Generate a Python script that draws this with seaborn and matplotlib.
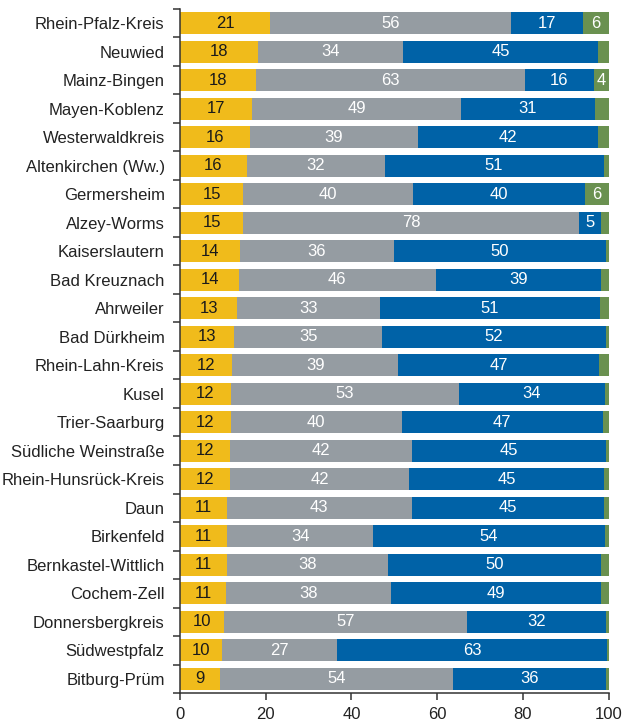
import numpy as np
import pandas as pd
import seaborn as sns
import matplotlib.pyplot as plt
from matplotlib.ticker import FixedLocator

districts = [
    "Rhein-Pfalz-Kreis", "Neuwied", "Mainz-Bingen", "Mayen-Koblenz",
    "Westerwaldkreis", "Altenkirchen (Ww.)", "Germersheim", "Alzey-Worms",
    "Kaiserslautern", "Bad Kreuznach", "Ahrweiler", "Bad Dürkheim",
    "Rhein-Lahn-Kreis", "Kusel", "Trier-Saarburg", "Südliche Weinstraße",
    "Rhein-Hunsrück-Kreis", "Daun", "Birkenfeld", "Bernkastel-Wittlich",
    "Cochem-Zell", "Donnersbergkreis", "Südwestpfalz", "Bitburg-Prüm",
]
yellow = [21.0, 18.2, 17.8, 16.8, 16.4, 15.6, 14.8, 14.8, 14.0, 13.8, 13.4, 12.6,
          12.2, 11.9, 11.9, 11.7, 11.7, 11.0, 11.0, 10.9, 10.8, 10.3, 9.9, 9.4]
gray = [56.1, 33.9, 62.6, 48.8, 39.0, 32.1, 39.6, 78.3, 35.8, 45.8, 33.2, 34.6,
        38.7, 53.1, 39.8, 42.3, 41.8, 43.0, 34.1, 37.6, 38.3, 56.7, 26.8, 54.2]
blue = [16.8, 45.3, 16.1, 31.1, 42.0, 51.1, 40.0, 5.0, 49.6, 38.7, 51.4, 52.1,
        46.8, 34.1, 46.9, 45.3, 45.3, 44.8, 54.0, 49.7, 49.0, 32.3, 62.8, 35.7]
green = [6.1, 2.6, 3.5, 3.3, 2.6, 1.2, 5.6, 1.9, 0.6, 1.7, 2.0, 0.7,
         2.3, 0.9, 1.4, 0.7, 1.2, 1.2, 0.9, 1.8, 1.9, 0.7, 0.5, 0.7]

colors = ["#F0BB1B", "#959CA2", "#0062A7", "#6A9150"]
text_colors = ["#1a1a1a", "white", "white", "white"]

df = pd.DataFrame({"district": districts, "yellow": yellow, "gray": gray,
                   "blue": blue, "green": green})
parts = ["yellow", "gray", "blue", "green"]
cum = df[parts].cumsum(axis=1)

sns.set_theme(style="ticks")
plt.rcParams["font.family"] = ["Liberation Sans", "DejaVu Sans"]

fig = plt.figure(figsize=(6.24, 7.24), dpi=100)
ax = fig.add_axes([0.2885, 0.0428, 0.687, 0.9448])

# draw stacked bars back to front using cumulative totals
for k in range(3, -1, -1):
    sns.barplot(x=cum[parts[k]], y=df["district"], orient="h", color=colors[k],
                width=0.76, saturation=1, ax=ax, linewidth=0)

# value labels
for i in range(len(df)):
    left = 0
    for k, p in enumerate(parts):
        v = df.loc[i, p]
        if v >= 3.4:
            ax.text(left + v / 2, i, f"{v:.0f}", ha="center", va="center",
                    color=text_colors[k], fontsize=12)
        left += v

ax.set_xlim(0, 100)
ax.set_ylim(23.5, -0.5)
ax.set_xticks([0, 20, 40, 60, 80, 100])
ax.set_xlabel("")
ax.set_ylabel("")
ax.tick_params(axis="x", labelsize=12, length=5, width=1.1, color="#333333",
               labelcolor="#222222", pad=5)
ax.tick_params(axis="y", which="major", length=0, labelsize=12,
               labelcolor="#222222", pad=11)
ax.yaxis.set_minor_locator(FixedLocator(np.arange(-0.5, 24, 1)))
ax.tick_params(axis="y", which="minor", length=5, width=1.1, color="#333333")
sns.despine(ax=ax)
for s in ["left", "bottom"]:
    ax.spines[s].set_color("#333333")
    ax.spines[s].set_linewidth(1.1)

fig.savefig("out.png", dpi=100)
